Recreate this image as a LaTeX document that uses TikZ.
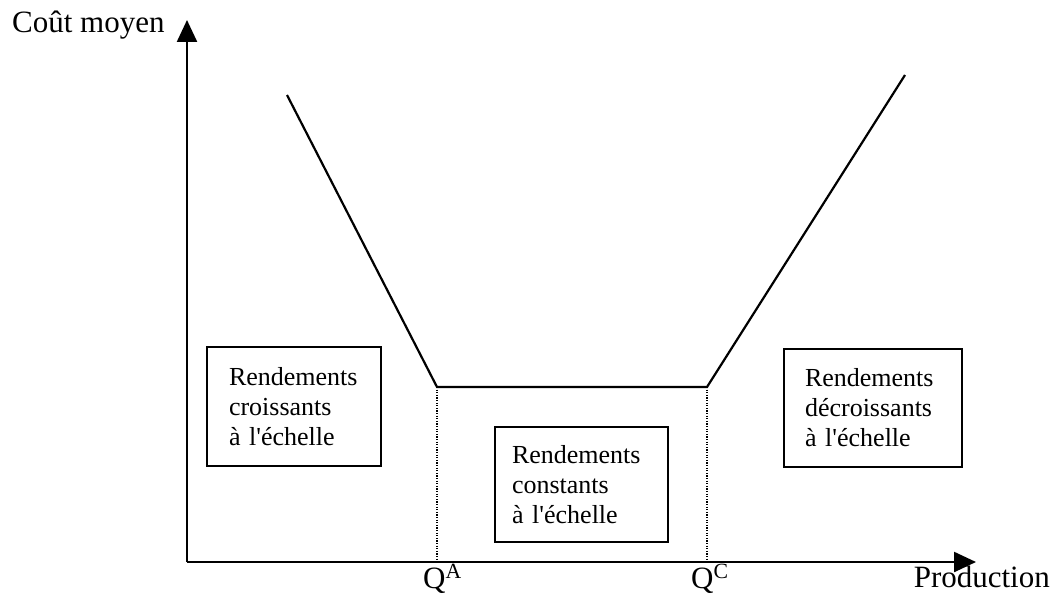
\documentclass[tikz,border=0pt]{standalone}
\usepackage{fontspec}
\setmainfont{Liberation Serif}
\usetikzlibrary{arrows.meta}
\begin{document}
\begin{tikzpicture}[x=1pt,y=-1pt,
  axis/.style={line width=2.4pt,-{Triangle[length=22pt,width=20pt]}},
  curveline/.style={line width=2.2pt,line join=miter},
  guide/.style={line width=1.2pt,dash pattern=on 1.2pt off 1.4pt},
  regime/.style={draw,line width=2.2pt,align=left,font=\fontsize{26}{30}\selectfont},
  axlabel/.style={font=\fontsize{31}{36}\selectfont,inner sep=0pt}]
\useasboundingbox (0,0) rectangle (1056,594);
% axes
\coordinate (O) at (187,562);
\coordinate (ytip) at (187,20);
\coordinate (xtip) at (976,562);
\draw[axis] (O) -- (ytip);
\draw[axis] (O) -- (xtip);
\node[axlabel,anchor=base west] (ylab) at (12,33) {Coût moyen};
\node[axlabel,anchor=base east] (xlab) at (1050,587) {Production};
% curve
\coordinate (L) at (287,95);
\coordinate (A) at (437,387);
\coordinate (C) at (707,387);
\coordinate (R) at (905,75);
\draw[curveline] (L) -- (A) -- (C) -- (R);
% guides
\coordinate (a0) at (437,562);
\coordinate (c0) at (707,562);
\draw[guide] (A) -- (a0);
\draw[guide] (C) -- (c0);
\node[axlabel,anchor=base west] (qa) at (423,588) {Q\textsuperscript{A}};
\node[axlabel,anchor=base west] (qc) at (691,588) {Q\textsuperscript{C}};
% boxes
\node[regime,text width=130pt,inner xsep=22pt,minimum height=119pt] (b1) at (294,406.5)
  {Rendements\\croissants\\à l\textquotesingle échelle};
\node[regime,text width=139pt,inner xsep=17pt,minimum height=115pt] (b2) at (581.5,484.5)
  {Rendements\\constants\\à l\textquotesingle échelle};
\node[regime,text width=136pt,inner xsep=21pt,minimum height=118pt] (b3) at (873,408)
  {Rendements\\décroissants\\à l\textquotesingle échelle};
\end{tikzpicture}
\end{document}
